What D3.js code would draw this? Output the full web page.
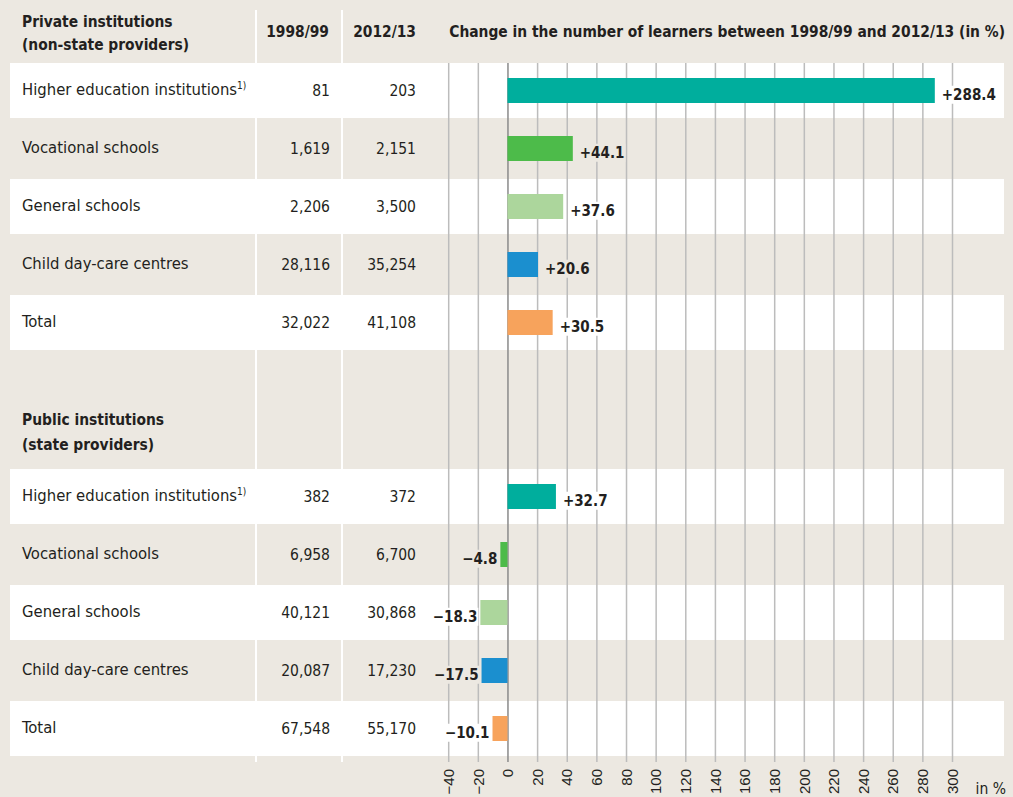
<!DOCTYPE html>
<html>
<head>
<meta charset="utf-8">
<script src="https://cdn.jsdelivr.net/npm/d3@7"></script>
<style>
body{margin:0;background:#ece8e1;}
svg{display:block;font-family:"DejaVu Sans Condensed","Liberation Sans Narrow","DejaVu Sans",sans-serif;}
</style>
</head>
<body>
<svg width="1013" height="797"></svg>
<script>
//Data
const categories = ["Higher education institutions", "Vocational schools", "General schools", "Child day-care centres", "Total"];
const privateY1998 = [81, 1619, 2206, 28116, 32022];
const privateY2012 = [203, 2151, 3500, 35254, 41108];
const privateChange = [288.4, 44.1, 37.6, 20.6, 30.5];
const publicY1998 = [382, 6958, 40121, 20087, 67548];
const publicY2012 = [372, 6700, 30868, 17230, 55170];
const publicChange = [32.7, -4.8, -18.3, -17.5, -10.1];
const tickValues = [-40, -20, 0, 20, 40, 60, 80, 100, 120, 140, 160, 180, 200, 220, 240, 260, 280, 300];
const colors = ["#00ae9d", "#4dbb4a", "#acd69c", "#1b8fcf", "#f7a35c"];

//Build rows
const rows = [];
categories.forEach((c, i) => rows.push({key: 'p' + i, cat: c, i: i, a: privateY1998[i], b: privateY2012[i], v: privateChange[i]}));
categories.forEach((c, i) => rows.push({key: 'q' + i, cat: c, i: i, a: publicY1998[i], b: publicY2012[i], v: publicChange[i]}));

//Layout
const tan = '#ece8e1';
const ink = '#231f20';
const gridTop = 63, gridBottom = 762;
const svg = d3.select('svg');

//Scales
const yScale = d3.scaleBand()
    .domain(['p0','p1','p2','p3','p4','gap1','gap2','q0','q1','q2','q3','q4'])
    .range([61.5, 61.5 + 12 * 58]);
const xScale = d3.scaleLinear()
    .domain([-40, 300])
    .range([448.2, 952]);
const center = d => yScale(d.key) + yScale.bandwidth() / 2;
const rowFill = d => d.i % 2 === 0 ? '#fff' : tan;
const fmt = d3.format(',');

//White rows
svg.append('g').selectAll('rect')
    .data(rows.filter(d => d.i % 2 === 0))
    .join('rect')
    .attr('x', 10)
    .attr('width', 994)
    .attr('y', d => center(d) - 27.5)
    .attr('height', 55)
    .attr('fill', '#fff');

//Column separators
svg.append('g').selectAll('line')
    .data([256, 342])
    .join('line')
    .attr('x1', d => d).attr('x2', d => d)
    .attr('y1', 10).attr('y2', gridBottom)
    .attr('stroke', '#fff')
    .attr('stroke-width', 2);

//Axis with gridlines
const xAxis = d3.axisBottom(xScale)
    .tickValues(tickValues)
    .tickSize(-(gridBottom - gridTop))
    .tickPadding(0);
const axisGroup = svg.append('g')
    .attr('transform', 'translate(0,' + gridBottom + ')')
    .call(xAxis);
axisGroup.select('.domain').remove();
axisGroup.selectAll('line')
    .attr('stroke', d => d === 0 ? '#8a8a8a' : '#bcbcbc')
    .attr('stroke-width', 1.5);
axisGroup.selectAll('text')
    .attr('transform', 'rotate(-90)')
    .attr('text-anchor', 'end')
    .attr('x', -7)
    .attr('y', 0)
    .attr('dy', '0.35em')
    .attr('font-size', 15)
    .attr('font-family', null)
    .attr('fill', ink);
svg.append('text')
    .attr('x', 1006).attr('y', 794)
    .attr('text-anchor', 'end')
    .attr('font-size', 15.5)
    .attr('fill', ink)
    .text('in %');

//Bars
svg.append('g').selectAll('rect')
    .data(rows)
    .join('rect')
    .attr('x', d => xScale(Math.min(0, d.v)))
    .attr('width', d => Math.abs(xScale(d.v) - xScale(0)))
    .attr('y', d => center(d) - 12.5)
    .attr('height', 25)
    .attr('fill', d => colors[d.i]);

//Value labels with background
const labelGroup = svg.append('g');
rows.forEach(d => {
    const g = labelGroup.append('g');
    const t = g.append('text')
        .attr('x', d.v >= 0 ? xScale(d.v) + 7 : xScale(d.v) - 3)
        .attr('y', center(d) + 4)
        .attr('dy', '0.35em')
        .attr('text-anchor', d.v >= 0 ? 'start' : 'end')
        .attr('font-size', 15)
        .attr('font-weight', 'bold')
        .attr('fill', ink)
        .text((d.v >= 0 ? '+' : '\u2212') + Math.abs(d.v).toFixed(1));
    const bb = t.node().getBBox();
    g.insert('rect', 'text')
        .attr('x', bb.x - 1).attr('y', bb.y)
        .attr('width', bb.width + 2).attr('height', bb.height)
        .attr('fill', rowFill(d));
});

//Table text
const table = svg.append('g').attr('fill', ink).attr('font-size', 15.5);
const labels = table.selectAll('text.cat')
    .data(rows)
    .join('text')
    .attr('class', 'cat')
    .attr('x', 22)
    .attr('y', d => center(d) - 1)
    .attr('dy', '0.35em')
    .attr('font-size', 16.5)
    .text(d => d.cat);
labels.filter(d => d.i === 0)
    .append('tspan')
    .attr('font-size', 10)
    .attr('dy', -6)
    .text('1)');
table.selectAll('text.a')
    .data(rows)
    .join('text')
    .attr('class', 'a')
    .attr('x', 330)
    .attr('y', d => center(d))
    .attr('dy', '0.35em')
    .attr('text-anchor', 'end')
    .text(d => fmt(d.a));
table.selectAll('text.b')
    .data(rows)
    .join('text')
    .attr('class', 'b')
    .attr('x', 416)
    .attr('y', d => center(d))
    .attr('dy', '0.35em')
    .attr('text-anchor', 'end')
    .text(d => fmt(d.b));

//Headers
const head = svg.append('g').attr('fill', ink).attr('font-size', 15.4).attr('font-weight', 'bold');
const pubTop = yScale('q0') + yScale.bandwidth() / 2 - 27.5;
[
    {x: 22, y: 22, t: 'Private institutions', a: 'start'},
    {x: 22, y: 45, t: '(non-state providers)', a: 'start'},
    {x: 329, y: 32, t: '1998/99', a: 'end'},
    {x: 416, y: 32, t: '2012/13', a: 'end'},
    {x: 1005, y: 32, t: 'Change in the number of learners between 1998/99 and 2012/13 (in %)', a: 'end'},
    {x: 22, y: pubTop - 49, t: 'Public institutions', a: 'start'},
    {x: 22, y: pubTop - 24, t: '(state providers)', a: 'start'}
].forEach(h => {
    head.append('text')
        .attr('x', h.x).attr('y', h.y)
        .attr('dy', '0.35em')
        .attr('text-anchor', h.a)
        .text(h.t);
});
</script>
</body>
</html>
